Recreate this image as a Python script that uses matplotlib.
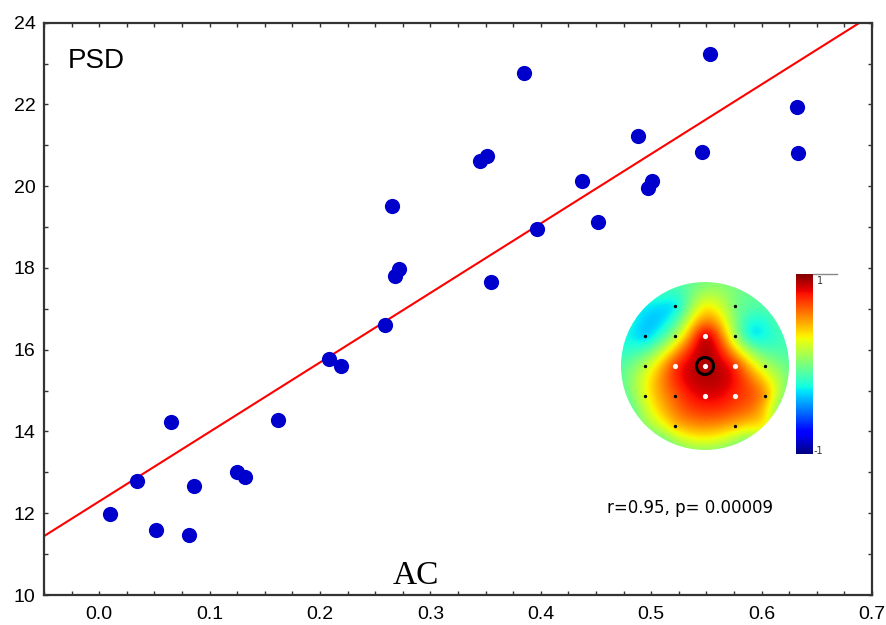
import numpy as np
import matplotlib
matplotlib.use("Agg")
import matplotlib.pyplot as plt
from matplotlib.patches import Circle
from matplotlib.ticker import MultipleLocator, FormatStrFormatter

# scatter data (AC vs PSD)
ac = [0.010, 0.034, 0.051, 0.065, 0.081, 0.086, 0.125, 0.132, 0.162, 0.208,
      0.219, 0.259, 0.265, 0.268, 0.272, 0.345, 0.351, 0.355, 0.385, 0.397,
      0.437, 0.452, 0.488, 0.497, 0.501, 0.546, 0.553, 0.632, 0.633]
psd = [11.98, 12.80, 11.59, 14.23, 11.47, 12.67, 13.02, 12.89, 14.28, 15.78,
       15.60, 16.61, 19.52, 17.80, 17.97, 20.62, 20.74, 17.66, 22.76, 18.95,
       20.13, 19.12, 21.23, 19.96, 20.13, 20.84, 23.23, 21.95, 20.82]

# regression line
fit_slope = 17.0
fit_intercept = 12.29

# topomap: electrode grid positions (grid units, y up) and correlation values
elec_x = [-1, 1, -2, -1, 0, 1, -2, -1, 0, 1, 2, -2, -1, 0, 1, 2, -1, 1]
elec_y = [2, 2, 1, 1, 1, 1, 0, 0, 0, 0, 0, -1, -1, -1, -1, -1, -2, -2]
elec_r = [-0.3, 0.0, -0.35, 0.12, 0.88, 0.12, 0.15, 0.7, 0.9, 0.72, 0.15,
          0.25, 0.62, 0.82, 0.72, 0.5, 0.4, 0.42]
elec_sig = [0, 0, 0, 0, 1, 0, 0, 1, 1, 1, 0, 0, 0, 1, 1, 0, 0, 0]
# extra anchor values between electrodes
anc_x = [0, 1.6, -1.6, -2, 2, 2, 0, 0.6, -0.5, 1.5, 0.0]
anc_y = [2, 1.1, 1.6, -2, -2, 2, 0.5, -1.6, 1.0, 1.9, -1.8]
anc_r = [0.3, -0.3, -0.35, 0.05, 0.3, -0.1, 0.9, 0.65, 0.5, -0.1, 0.6]
# anchors on the rim of the head, every 30 degrees starting at the right
rim_x = [2.8, 2.42, 1.4, 0.0, -1.4, -2.42, -2.8, -2.42, -1.4, 0.0, 1.4, 2.42]
rim_y = [0.0, 1.4, 2.42, 2.8, 2.42, 1.4, 0.0, -1.4, -2.42, -2.8, -2.42, -1.4]
rim_r = [-0.05, -0.12, -0.05, 0.0, -0.15, -0.25, -0.1, -0.05, 0.0, 0.08, 0.05, 0.05]

W, H = 887, 625
fig = plt.figure(figsize=(W / 100, H / 100), dpi=100)
ax = fig.add_axes([44 / W, 30 / H, (872 - 44) / W, (595 - 22.7) / H])

ax.scatter(ac, psd, s=120, color="#0000cc", zorder=3, linewidths=0)
xl = np.array([-0.05, 0.7])
ax.plot(xl, fit_intercept + fit_slope * xl, color="red", lw=1.5, zorder=2)

ax.set_xlim(-0.05, 0.7)
ax.set_ylim(10, 24)
ax.xaxis.set_major_locator(MultipleLocator(0.1))
ax.xaxis.set_minor_locator(MultipleLocator(0.025))
ax.yaxis.set_major_locator(MultipleLocator(2))
ax.yaxis.set_minor_locator(MultipleLocator(1))
ax.xaxis.set_major_formatter(FormatStrFormatter("%.1f"))
ax.tick_params(which="both", direction="in", top=True, right=True,
               length=3, width=1, color="#333333")
ax.tick_params(axis="x", which="major", pad=8, labelsize=14)
ax.tick_params(axis="y", which="major", pad=6, labelsize=14)
for lab in ax.get_xticklabels() + ax.get_yticklabels():
    lab.set_fontfamily("Liberation Sans")
for sp in ax.spines.values():
    sp.set_linewidth(1.6)
    sp.set_color("#333333")

fig.text(68 / W, 1 - 68 / H, "PSD", fontsize=20, family="Liberation Sans",
         ha="left", va="baseline")
fig.text(416 / W, 1 - 584 / H, "AC", fontsize=24, family="Liberation Serif",
         ha="center", va="baseline")
fig.text(607 / W, 1 - 513 / H, "r=0.95, p= 0.00009", fontsize=12,
         family="DejaVu Sans", ha="left", va="baseline")

# inset topomap (thin-plate spline through electrode values)
R = 85 / 30
px = np.array(elec_x + anc_x + rim_x, float)
py = np.array(elec_y + anc_y + rim_y, float)
pv = np.array(elec_r + anc_r + rim_r, float)


def tps(r):
    with np.errstate(divide="ignore", invalid="ignore"):
        out = r ** 2 * np.log(r)
    return np.nan_to_num(out)


n = len(px)
K = tps(np.hypot(px[:, None] - px, py[:, None] - py)) + 0.1 * np.eye(n)
P = np.column_stack([np.ones(n), px, py])
A = np.zeros((n + 3, n + 3))
A[:n, :n] = K
A[:n, n:] = P
A[n:, :n] = P.T
coef = np.linalg.solve(A, np.concatenate([pv, np.zeros(3)]))
gx, gy = np.meshgrid(np.linspace(-R, R, 300), np.linspace(-R, R, 300))
field = tps(np.hypot(gx[..., None] - px, gy[..., None] - py)) @ coef[:n]
field += coef[n] + coef[n + 1] * gx + coef[n + 2] * gy
field = np.clip(field, -1, 1)

tax = fig.add_axes([(705 - 85) / W, (H - 366 - 85) / H, 170 / W, 170 / H])
im = tax.imshow(field, extent=[-R, R, -R, R], origin="lower", cmap="jet",
                vmin=-1, vmax=1, interpolation="bilinear")
clip = Circle((0, 0), 2.8, transform=tax.transData)
im.set_clip_path(clip)
ex = np.array(elec_x)
ey = np.array(elec_y)
sg = np.array(elec_sig, bool)
tax.scatter(ex[~sg], ey[~sg], s=2, color="black", zorder=3)
tax.scatter(ex[sg], ey[sg], s=14, color="white", zorder=3, linewidths=0)
tax.scatter([0], [0], s=150, facecolors="none", edgecolors="black",
            linewidths=2.2, zorder=4)
tax.set_xlim(-R, R)
tax.set_ylim(-R, R)
tax.axis("off")

# colorbar
cax = fig.add_axes([796 / W, (H - 454) / H, 17 / W, 180 / H])
cb = fig.colorbar(im, cax=cax, ticks=[])
cb.outline.set_visible(False)
fig.add_artist(plt.Line2D([813 / W, 837 / W], [1 - 274 / H, 1 - 274 / H],
                          color="#888888", lw=1))
fig.text(817 / W, 1 - 281 / H, "1", fontsize=7, color="#333333",
         family="DejaVu Sans", ha="left", va="center")
fig.text(814 / W, 1 - 451 / H, "-1", fontsize=7, color="#333333",
         family="DejaVu Sans", ha="left", va="center")

fig.savefig("out.png", dpi=100)
